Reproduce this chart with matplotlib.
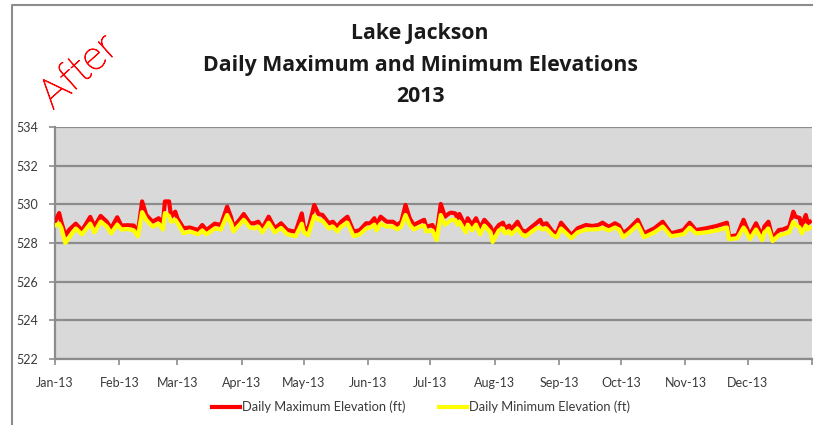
import numpy as np
import matplotlib
matplotlib.use("Agg")
import matplotlib.pyplot as plt
from matplotlib.lines import Line2D
import matplotlib.patheffects as pe

# ---- data ----
day_of_year = [0, 2, 3, 5, 7, 10, 13, 17, 19, 22, 25, 27, 30, 32, 35, 38, 40, 42, 44, 47,
               50, 52, 53, 55, 56, 58, 59, 62, 65, 69, 71, 73, 77, 80, 83, 85, 86, 89, 91, 94,
               96, 98, 100, 103, 106, 109, 112, 116, 119, 120, 122, 125, 127, 129, 132, 134, 136, 138, 141, 144,
               147, 150, 152, 154, 155, 157, 160, 163, 165, 167, 169, 171, 173, 176, 178, 179, 182, 184, 186, 188,
               190, 191, 193, 194, 195, 198, 199, 201, 203, 205, 207, 210, 211, 214, 216, 217, 219, 220, 223, 225,
               227, 230, 232, 234, 235, 237, 240, 242, 244, 247, 249, 252, 256, 259, 262, 264, 267, 270, 272, 274,
               277, 281, 284, 289, 293, 297, 303, 306, 309, 314, 319, 324, 325, 329, 332, 333, 335, 338, 341, 342,
               344, 346, 349, 351, 354, 356, 357, 359, 360, 362, 363, 364]

max_elev = [529.10, 529.55, 529.10, 528.40, 528.70, 529.00, 528.65, 529.35, 528.85, 529.40,
            529.10, 528.75, 529.33, 528.90, 528.92, 528.90, 528.55, 530.15, 529.45, 529.10,
            529.28, 529.00, 530.15, 530.15, 529.35, 529.62, 529.28, 528.76, 528.80, 528.67,
            528.93, 528.67, 529.00, 528.93, 529.88, 529.30, 528.84, 529.20, 529.50, 529.02,
            529.02, 529.10, 528.76, 529.36, 528.76, 529.02, 528.67, 528.58, 529.53, 528.84,
            528.67, 529.97, 529.50, 529.45, 529.02, 529.10, 528.84, 529.10, 529.36, 528.58,
            528.67, 529.02, 529.02, 529.28, 528.93, 529.36, 529.10, 529.10, 528.93, 529.10,
            529.97, 529.28, 528.93, 529.10, 529.20, 528.84, 528.93, 528.50, 530.02, 529.36,
            529.53, 529.57, 529.53, 529.28, 529.50, 528.84, 529.28, 528.93, 529.28, 528.76,
            529.20, 528.84, 528.50, 528.93, 529.05, 528.76, 528.90, 528.70, 529.10, 528.67,
            528.58, 528.84, 529.02, 529.20, 528.95, 529.02, 528.58, 528.50, 529.05, 528.67,
            528.41, 528.76, 528.93, 528.88, 528.93, 529.05, 528.84, 529.02, 528.90, 528.50,
            528.76, 529.20, 528.50, 528.76, 529.10, 528.50, 528.67, 529.05, 528.67, 528.76,
            528.88, 529.05, 528.33, 528.41, 529.20, 528.93, 528.41, 529.02, 528.33, 528.85,
            529.10, 528.24, 528.67, 528.70, 528.84, 529.62, 529.36, 529.30, 528.84, 529.45,
            529.02, 529.10]

min_elev = [528.90, 529.00, 528.80, 528.00, 528.30, 528.75, 528.45, 529.00, 528.55, 529.10,
            528.85, 528.50, 528.95, 528.70, 528.72, 528.65, 528.35, 529.60, 529.20, 528.85,
            529.00, 528.70, 529.55, 529.40, 529.10, 529.20, 529.05, 528.50, 528.60, 528.45,
            528.65, 528.45, 528.75, 528.70, 529.45, 529.00, 528.60, 528.95, 529.20, 528.80,
            528.75, 528.85, 528.55, 529.05, 528.55, 528.78, 528.45, 528.35, 529.00, 528.55,
            528.40, 529.40, 529.20, 529.15, 528.75, 528.85, 528.60, 528.85, 529.05, 528.35,
            528.45, 528.75, 528.80, 528.95, 528.65, 529.00, 528.85, 528.85, 528.70, 528.85,
            529.45, 528.95, 528.70, 528.85, 528.90, 528.60, 528.65, 528.15, 529.45, 528.95,
            529.10, 529.20, 529.20, 528.95, 529.10, 528.55, 528.95, 528.65, 528.95, 528.45,
            528.90, 528.55, 528.05, 528.65, 528.75, 528.50, 528.60, 528.45, 528.75, 528.45,
            528.35, 528.60, 528.75, 528.80, 528.70, 528.75, 528.40, 528.30, 528.75, 528.45,
            528.25, 528.55, 528.70, 528.70, 528.72, 528.78, 528.65, 528.80, 528.70, 528.30,
            528.55, 528.95, 528.30, 528.55, 528.85, 528.35, 528.45, 528.80, 528.50, 528.55,
            528.65, 528.80, 528.20, 528.25, 528.80, 528.65, 528.20, 528.70, 528.15, 528.55,
            528.75, 528.10, 528.40, 528.45, 528.55, 529.10, 528.95, 528.80, 528.50, 528.90,
            528.70, 528.80]

month_labels = ["Jan-13", "Feb-13", "Mar-13", "Apr-13", "May-13", "Jun-13",
                "Jul-13", "Aug-13", "Sep-13", "Oct-13", "Nov-13", "Dec-13", ""]
y_ticks = [522, 524, 526, 528, 530, 532, 534]

title_lines = ["Lake Jackson", "Daily Maximum and Minimum Elevations", "2013"]
series_names = ["Daily Maximum Elevation (ft)", "Daily Minimum Elevation (ft)"]

# ---- figure ----
plt.rcParams['font.family'] = ['Lato', 'DejaVu Sans']
fig = plt.figure(figsize=(8.25, 4.25), dpi=100)
fig.patch.set_facecolor('white')

ax = fig.add_axes([55/825, 1 - 359/425, (812 - 55)/825, (359 - 127)/425])
ax.set_facecolor('#d9d9d9')

dates = np.datetime64('2013-01-01') + np.array(day_of_year).astype('timedelta64[D]')
l1, = ax.plot(dates, max_elev, color='#ff0000', lw=3.0, solid_joinstyle='round', zorder=3)
l2, = ax.plot(dates, min_elev, color='#ffff00', lw=3.0, solid_joinstyle='round', zorder=4)

ax.set_ylim(522, 534)
ax.set_yticks(y_ticks)
ax.set_xlim(np.datetime64('2013-01-01'), np.datetime64('2014-01-01'))
month_starts = [np.datetime64('2013-%02d-01' % m) for m in range(1, 13)] + [np.datetime64('2014-01-01')]
ax.set_xticks(month_starts)
ax.set_xticklabels(month_labels)

ax.grid(axis='y', color='#8c8c8c', lw=1.6, zorder=1)
ax.set_axisbelow(True)
for s in ['top', 'right']:
    ax.spines[s].set_visible(False)
for s in ['left', 'bottom']:
    ax.spines[s].set_color('#8c8c8c')
    ax.spines[s].set_linewidth(1.6)
ax.tick_params(axis='both', colors='#8c8c8c', labelcolor='#3a3a3a', labelsize=9, length=4, width=1.2)
ax.tick_params(axis='x', pad=9)
ax.tick_params(axis='y', pad=8)

# titles
ys = [33, 65, 97]
for t, yy in zip(title_lines, ys):
    fig.text(420/825, 1 - yy/425, t, ha='center', va='center', fontsize=15.3,
             fontweight='bold', color='#1a1a1a', family=['Open Sans', 'DejaVu Sans'])

# "After" annotation (thin red handwriting look)
fig.text(79/825, 1 - 72/425, "After", ha='center', va='center', fontsize=30,
         rotation=42, color='#ff0000', fontweight='light', family=['Lato', 'DejaVu Sans'],
         path_effects=[pe.withStroke(linewidth=0.7, foreground='#ff0000')])

# legend
leg = fig.legend([l1, l2], series_names, loc='center', ncol=2,
                 bbox_to_anchor=(421/825, 1 - 407/425), frameon=False,
                 fontsize=9.3, handlelength=2.2, handletextpad=0.15, columnspacing=2.6)
for h in leg.legend_handles:
    h.set_linewidth(3)
for t in leg.get_texts():
    t.set_color('#3a3a3a')

# outer border (left and top edges of the chart box)
fig.add_artist(Line2D([12/825, 12/825, 812/825], [0, 1 - 5/425, 1 - 5/425],
                      transform=fig.transFigure, color='#8c8c8c', lw=1.5))

fig.savefig('out.png', dpi=100)
